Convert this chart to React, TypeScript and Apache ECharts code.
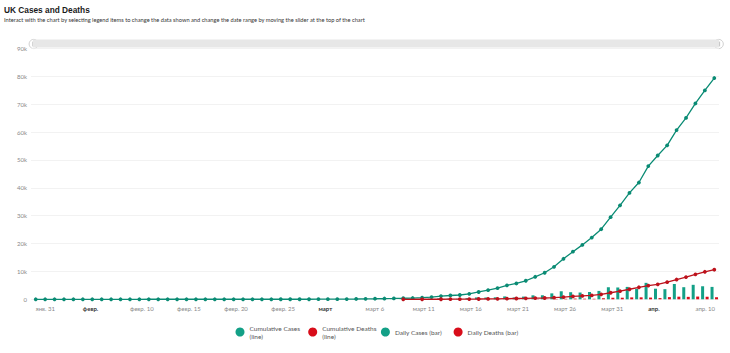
import React, { useEffect, useRef } from "react";
import * as echarts from "echarts";

const categories: string[] = [
  "2020-01-31",
  "2020-02-01", "2020-02-02", "2020-02-03", "2020-02-04", "2020-02-05", "2020-02-06", "2020-02-07",
  "2020-02-08", "2020-02-09", "2020-02-10", "2020-02-11", "2020-02-12", "2020-02-13", "2020-02-14",
  "2020-02-15", "2020-02-16", "2020-02-17", "2020-02-18", "2020-02-19", "2020-02-20", "2020-02-21",
  "2020-02-22", "2020-02-23", "2020-02-24", "2020-02-25", "2020-02-26", "2020-02-27", "2020-02-28",
  "2020-02-29",
  "2020-03-01", "2020-03-02", "2020-03-03", "2020-03-04", "2020-03-05", "2020-03-06", "2020-03-07",
  "2020-03-08", "2020-03-09", "2020-03-10", "2020-03-11", "2020-03-12", "2020-03-13", "2020-03-14",
  "2020-03-15", "2020-03-16", "2020-03-17", "2020-03-18", "2020-03-19", "2020-03-20", "2020-03-21",
  "2020-03-22", "2020-03-23", "2020-03-24", "2020-03-25", "2020-03-26", "2020-03-27", "2020-03-28",
  "2020-03-29", "2020-03-30", "2020-03-31",
  "2020-04-01", "2020-04-02", "2020-04-03", "2020-04-04", "2020-04-05", "2020-04-06", "2020-04-07",
  "2020-04-08", "2020-04-09", "2020-04-10", "2020-04-11", "2020-04-12",
];

// one label every 5th category, starting with the first
const tickLabels: string[] = [
  "янв. 31", "февр.", "февр. 10", "февр. 15", "февр. 20", "февр. 25", "март",
  "март 6", "март 11", "март 16", "март 21", "март 26", "март 31", "апр.", "апр. 10",
];
const monthLabels: string[] = ["февр.", "март", "апр."];

const cumulativeCases: number[] = [
  2,
  2, 2, 2, 2, 2, 3, 3, 3, 3, 8, 8, 9, 9, 9,
  9, 9, 9, 9, 9, 9, 9, 9, 9, 9, 9, 13, 15, 20,
  23,
  36, 40, 51, 85, 115, 163, 206, 273, 321, 373, 456, 590, 798, 1140,
  1372, 1543, 1950, 2626, 3269, 3983, 5018, 5683, 6650, 8077, 9529, 11658, 14543, 17089,
  19522, 22141, 25150,
  29474, 33718, 38168, 41903, 47806, 51608, 55242, 60733, 65077, 70272, 74950, 79400,
];

const cumulativeDeaths: (number | null)[] = [
  null,
  null, null, null, null, null, null, null, null, null, null, null, null, null, null,
  null, null, null, null, null, null, null, null, null, null, null, null, null, null,
  null,
  null, null, null, null, null, null, null, null, null, 6, null, 10, null, 21,
  35, 55, 71, 104, 144, 177, 233, 281, 335, 422, 465, 578, 759, 1019,
  1228, 1408, 1789,
  2352, 2921, 3605, 4313, 4934, 5373, 6159, 7097, 7978, 8958, 9875, 10612,
];

const dailyCases: number[] = [
  2,
  0, 0, 0, 0, 0, 1, 0, 0, 0, 5, 0, 1, 0, 0,
  0, 0, 0, 0, 0, 0, 0, 0, 0, 0, 0, 4, 2, 5,
  3,
  13, 4, 11, 34, 30, 48, 43, 67, 48, 52, 83, 134, 208, 342,
  232, 171, 407, 676, 643, 714, 1035, 665, 967, 1427, 1452, 2129, 2885, 2546,
  2433, 2619, 3009,
  4324, 4244, 4450, 3735, 5903, 3802, 3634, 5491, 4344, 5195, 4680, 4450,
];

const dailyDeaths: (number | null)[] = [
  null,
  null, null, null, null, null, null, null, null, null, null, null, null, null, null,
  null, null, null, null, null, null, null, null, null, null, null, null, null, null,
  null,
  null, null, null, null, null, null, null, null, null, null, null, null, null, 11,
  14, 20, 16, 33, 40, 33, 56, 48, 54, 87, 43, 113, 181, 260,
  209, 180, 381,
  563, 569, 684, 708, 621, 439, 786, 938, 881, 980, 917, 737,
];

const yTicks = { min: 0, max: 90000, interval: 10000 };

const TITLE = "UK Cases and Deaths";
const SUBTITLE =
  "Interact with the chart by selecting legend items to change the data shown and change the date range by moving the slider at the top of the chart";

const seriesNames = [
  "Cumulative Cases\n(line)",
  "Cumulative Deaths\n(line)",
  "Daily Cases (bar)",
  "Daily Deaths (bar)",
];

const FONT = "Lato, 'Noto Sans', sans-serif";
const GREEN_LINE = "#0a8b74";
const GREEN = "#13a087";
const RED_LINE = "#bd121c";
const RED = "#d80d1a";

function handle(cx: number, cy: number) {
  return {
    type: "group",
    silent: true,
    z: 10,
    children: [
      {
        type: "circle",
        shape: { cx, cy, r: 4.6 },
        style: { fill: "#ffffff", stroke: "#c4c4c4", lineWidth: 0.8 },
      },
      {
        type: "line",
        shape: { x1: cx - 0.9, y1: cy - 2.4, x2: cx - 0.9, y2: cy + 2.4 },
        style: { stroke: "#9a9a9a", lineWidth: 0.6 },
      },
      {
        type: "line",
        shape: { x1: cx + 0.9, y1: cy - 2.4, x2: cx + 0.9, y2: cy + 2.4 },
        style: { stroke: "#9a9a9a", lineWidth: 0.6 },
      },
    ],
  };
}

export default function App() {
  const ref = useRef<HTMLDivElement>(null);

  useEffect(() => {
    if (!ref.current) return;
    const chart = echarts.init(ref.current, undefined, { renderer: "svg" });

    const option: any = {
      animation: false,
      backgroundColor: "#ffffff",
      title: {
        text: TITLE,
        subtext: SUBTITLE,
        left: 4,
        top: 5.5,
        padding: 0,
        itemGap: 2.5,
        textStyle: {
          fontFamily: "Liberation Sans, Arial, sans-serif",
          fontSize: 8.3,
          fontWeight: "bold",
          color: "#1a1a1a",
        },
        subtextStyle: {
          fontFamily: FONT,
          fontSize: 5.7,
          color: "#333333",
        },
      },
      legend: {
        left: 235.5,
        top: 320,
        padding: 0,
        icon: "circle",
        itemWidth: 9,
        itemHeight: 9,
        itemGap: 2.7,
        textStyle: {
          fontFamily: FONT,
          fontSize: 6.5,
          color: "#555555",
          width: 56,
          lineHeight: 8,
        },
        data: [
          { name: seriesNames[0], itemStyle: { color: GREEN }, textStyle: { padding: [8, 0, 0, 0] } },
          { name: seriesNames[1], itemStyle: { color: RED }, textStyle: { padding: [8, 0, 0, 0] } },
          { name: seriesNames[2], itemStyle: { color: GREEN } },
          { name: seriesNames[3], itemStyle: { color: RED } },
        ],
      },
      grid: { left: 31, right: 11, top: 48.5, bottom: 53.7 },
      xAxis: {
        type: "category",
        data: categories,
        boundaryGap: true,
        axisLine: { show: false },
        axisTick: { show: false },
        axisLabel: {
          interval: (idx: number) => idx % 5 === 0,
          align: "left",
          margin: 6,
          fontFamily: FONT,
          fontSize: 6,
          color: "#888888",
          formatter: (_v: string, idx: number) => {
            const t = tickLabels[Math.round(idx / 5)] ?? "";
            return monthLabels.includes(t) ? `{m|${t}}` : t;
          },
          rich: {
            m: { fontFamily: FONT, fontSize: 6, fontWeight: "bold", color: "#333333" },
          },
        },
      },
      yAxis: {
        type: "value",
        min: yTicks.min,
        max: yTicks.max,
        interval: yTicks.interval,
        axisLine: { show: false },
        axisTick: { show: false },
        splitLine: { lineStyle: { color: "#efefef", width: 0.8 } },
        axisLabel: {
          margin: 4,
          fontFamily: FONT,
          fontSize: 6,
          color: "#888888",
          formatter: (v: number) => (v === 0 ? "0" : `${v / 1000}k`),
        },
      },
      series: [
        {
          name: seriesNames[0],
          type: "line",
          data: cumulativeCases,
          z: 5,
          symbol: "circle",
          symbolSize: 3.8,
          lineStyle: { color: GREEN_LINE, width: 1.3 },
          itemStyle: { color: GREEN_LINE },
        },
        {
          name: seriesNames[1],
          type: "line",
          data: cumulativeDeaths,
          connectNulls: true,
          z: 6,
          symbol: "circle",
          symbolSize: 3.8,
          lineStyle: { color: RED_LINE, width: 1.3 },
          itemStyle: { color: RED_LINE },
        },
        {
          name: seriesNames[2],
          type: "bar",
          data: dailyCases,
          barWidth: 3,
          barGap: "50%",
          z: 2,
          itemStyle: { color: GREEN },
        },
        {
          name: seriesNames[3],
          type: "bar",
          data: dailyDeaths,
          barWidth: 3,
          barGap: "50%",
          z: 2,
          itemStyle: { color: RED },
        },
      ],
      graphic: [
        {
          type: "rect",
          silent: true,
          z: 9,
          shape: { x: 33, y: 39.5, width: 686, height: 8 },
          style: { fill: "#e7e7e7" },
        },
        handle(33.7, 44),
        handle(718.7, 44),
      ],
    };

    chart.setOption(option);
    return () => chart.dispose();
  }, []);

  return (
    <div
      ref={ref}
      style={{ position: "absolute", left: 0, top: 0, width: 730, height: 353 }}
    />
  );
}
